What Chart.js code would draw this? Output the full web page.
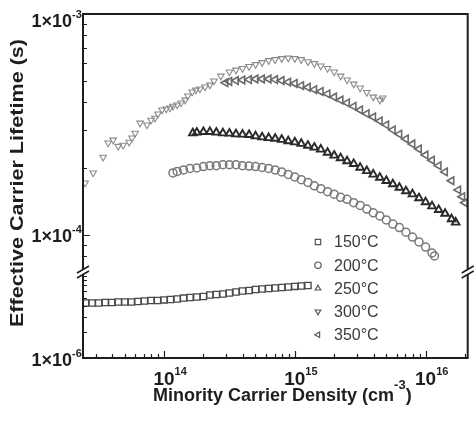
<!DOCTYPE html>
<html>
<head>
<meta charset="utf-8">
<script src="https://cdn.jsdelivr.net/npm/chart.js@4.4.0/dist/chart.umd.min.js"></script>
<style>
  html, body { margin: 0; padding: 0; background: #fff; }
  canvas { display: block; }
</style>
</head>
<body>
<canvas id="chart" width="474" height="426"></canvas>
<script>
// annealing temperatures (legend order)
const temps = ['150°C', '200°C', '250°C', '300°C', '350°C'];

// minority carrier density (cm^-3) and effective lifetime (s)
const n150 = [2.51e13, 2.82e13, 3.16e13, 3.55e13, 3.98e13, 4.47e13, 5.01e13, 5.62e13, 6.31e13, 7.08e13, 7.94e13, 8.91e13,
  1.00e14, 1.12e14, 1.26e14, 1.41e14, 1.58e14, 1.78e14, 2.00e14, 2.24e14, 2.51e14, 2.82e14,
  3.16e14, 3.55e14, 3.98e14, 4.47e14, 5.01e14, 5.62e14, 6.31e14, 7.08e14, 7.94e14, 8.91e14,
  1.00e15, 1.12e15, 1.26e15];
const tau150 = [4.36e-6, 4.36e-6, 4.36e-6, 4.42e-6, 4.42e-6, 4.48e-6, 4.48e-6, 4.48e-6, 4.54e-6, 4.60e-6, 4.66e-6, 4.66e-6,
  4.73e-6, 4.79e-6, 4.85e-6, 4.98e-6, 5.05e-6, 5.12e-6, 5.19e-6, 5.40e-6, 5.48e-6, 5.55e-6,
  5.70e-6, 5.85e-6, 6.01e-6, 6.09e-6, 6.26e-6, 6.34e-6, 6.43e-6, 6.52e-6, 6.60e-6, 6.69e-6,
  6.79e-6, 6.88e-6, 6.97e-6];

const n200 = [1.17e14, 1.26e14, 1.41e14, 1.58e14, 1.78e14, 2.00e14, 2.24e14, 2.51e14, 2.82e14, 3.16e14,
  3.55e14, 3.98e14, 4.47e14, 5.01e14, 5.62e14, 6.31e14, 7.08e14, 7.94e14, 8.91e14,
  1.00e15, 1.12e15, 1.26e15, 1.41e15, 1.58e15, 1.78e15, 2.00e15, 2.24e15, 2.51e15, 2.82e15,
  3.16e15, 3.55e15, 3.98e15, 4.47e15, 5.01e15, 5.62e15, 6.31e15, 7.08e15, 7.94e15, 8.91e15,
  1.00e16, 1.12e16, 1.17e16];
const tau200 = [1.91e-4, 1.94e-4, 1.97e-4, 2.00e-4, 2.01e-4, 2.04e-4, 2.06e-4, 2.06e-4, 2.08e-4, 2.08e-4,
  2.08e-4, 2.06e-4, 2.05e-4, 2.04e-4, 2.02e-4, 2.00e-4, 1.97e-4, 1.93e-4, 1.88e-4,
  1.83e-4, 1.78e-4, 1.73e-4, 1.67e-4, 1.62e-4, 1.57e-4, 1.53e-4, 1.48e-4, 1.45e-4, 1.40e-4,
  1.36e-4, 1.31e-4, 1.26e-4, 1.22e-4, 1.17e-4, 1.12e-4, 1.08e-4, 1.03e-4, 9.79e-5, 9.30e-5,
  8.82e-5, 8.29e-5, 8.04e-5];

const n250 = [1.66e14, 1.78e14, 2.00e14, 2.24e14, 2.51e14, 2.82e14, 3.16e14, 3.55e14, 3.98e14, 4.47e14,
  5.01e14, 5.62e14, 6.31e14, 7.08e14, 7.94e14, 8.91e14,
  1.00e15, 1.12e15, 1.26e15, 1.41e15, 1.58e15, 1.78e15, 2.00e15, 2.24e15, 2.51e15, 2.82e15,
  3.16e15, 3.55e15, 3.98e15, 4.47e15, 5.01e15, 5.62e15, 6.31e15, 7.08e15, 7.94e15, 8.91e15,
  1.00e16, 1.12e16, 1.26e16, 1.41e16, 1.58e16, 1.70e16];
const tau250 = [2.89e-4, 2.91e-4, 2.93e-4, 2.93e-4, 2.91e-4, 2.89e-4, 2.88e-4, 2.86e-4, 2.85e-4, 2.84e-4,
  2.80e-4, 2.77e-4, 2.75e-4, 2.73e-4, 2.70e-4, 2.66e-4,
  2.63e-4, 2.59e-4, 2.54e-4, 2.49e-4, 2.44e-4, 2.36e-4, 2.29e-4, 2.23e-4, 2.16e-4, 2.10e-4,
  2.02e-4, 1.95e-4, 1.88e-4, 1.82e-4, 1.76e-4, 1.70e-4, 1.64e-4, 1.58e-4, 1.53e-4, 1.47e-4,
  1.41e-4, 1.35e-4, 1.30e-4, 1.25e-4, 1.18e-4, 1.14e-4];

const n300 = [2.49e13, 2.87e13, 3.42e13, 3.74e13, 4.08e13, 4.46e13, 4.86e13, 5.41e13, 5.70e13, 6.01e13,
  6.56e13, 7.41e13, 7.96e13, 8.53e13, 8.99e13, 9.66e13,
  1.04e14, 1.11e14, 1.17e14, 1.26e14, 1.35e14, 1.45e14, 1.52e14, 1.64e14, 1.75e14, 1.88e14,
  2.06e14, 2.24e14, 2.41e14, 2.72e14,
  3.16e14, 3.55e14, 3.98e14, 4.47e14, 5.01e14, 5.62e14, 6.31e14, 7.08e14, 7.94e14, 8.91e14,
  1.00e15, 1.12e15, 1.26e15, 1.41e15, 1.58e15, 1.78e15, 2.00e15, 2.24e15, 2.51e15, 2.82e15,
  3.16e15, 3.55e15, 3.98e15, 4.47e15, 4.70e15];
const tau300 = [1.72e-4, 1.91e-4, 2.25e-4, 2.61e-4, 2.69e-4, 2.52e-4, 2.55e-4, 2.63e-4, 2.75e-4, 2.89e-4,
  3.21e-4, 3.15e-4, 3.31e-4, 3.38e-4, 3.53e-4, 3.68e-4,
  3.72e-4, 3.76e-4, 3.83e-4, 3.88e-4, 3.96e-4, 4.08e-4, 4.26e-4, 4.44e-4, 4.53e-4, 4.58e-4,
  4.68e-4, 4.77e-4, 4.98e-4, 5.24e-4,
  5.47e-4, 5.58e-4, 5.67e-4, 5.79e-4, 5.91e-4, 6.03e-4, 6.16e-4, 6.22e-4, 6.29e-4, 6.32e-4,
  6.29e-4, 6.22e-4, 6.09e-4, 5.97e-4, 5.82e-4, 5.67e-4, 5.47e-4, 5.24e-4, 5.03e-4, 4.82e-4,
  4.63e-4, 4.42e-4, 4.21e-4, 4.08e-4, 4.17e-4];

const n350 = [2.95e14, 3.16e14, 3.55e14, 3.98e14, 4.47e14, 5.01e14, 5.62e14, 6.31e14, 7.08e14, 7.94e14, 8.91e14,
  1.00e15, 1.12e15, 1.26e15, 1.41e15, 1.58e15, 1.78e15, 2.00e15, 2.24e15, 2.51e15, 2.82e15,
  3.16e15, 3.55e15, 3.98e15, 4.47e15, 5.01e15, 5.62e15, 6.31e15, 7.08e15, 7.94e15, 8.91e15,
  1.00e16, 1.12e16, 1.26e16, 1.41e16, 1.58e16, 1.78e16, 1.91e16, 2.00e16];
const tau350 = [4.89e-4, 4.95e-4, 5.00e-4, 5.03e-4, 5.05e-4, 5.08e-4, 5.08e-4, 5.08e-4, 5.05e-4, 5.00e-4, 4.92e-4,
  4.85e-4, 4.74e-4, 4.66e-4, 4.55e-4, 4.46e-4, 4.35e-4, 4.21e-4, 4.08e-4, 3.96e-4, 3.82e-4,
  3.68e-4, 3.54e-4, 3.42e-4, 3.28e-4, 3.15e-4, 2.99e-4, 2.86e-4, 2.72e-4, 2.58e-4, 2.45e-4,
  2.30e-4, 2.18e-4, 2.06e-4, 1.93e-4, 1.76e-4, 1.60e-4, 1.49e-4, 1.40e-4];

// tick labels
const xTickValues = [1e14, 1e15, 1e16];
const xTickExps = ['14', '15', '16'];
const yTickValues = [1e-3, 1e-4];
const yTickExps = ['-3', '-4'];
const y2TickValues = [1e-6];
const y2TickExps = ['-6'];

const densities = [n150, n200, n250, n300, n350];
const lifetimes = [tau150, tau200, tau250, tau300, tau350];
const axisIds = ['y2', 'y', 'y', 'y', 'y'];
const shapes = ['rect', 'circle', 'triangle', 'triangle', 'triangle'];
const turns = [0, 0, 0, 180, -90];
const colors = ['#4a4a4a', '#7a7a7a', '#2a2a2a', '#8a8a8a', '#6a6a6a'];
const sizes = [4.4, 4.0, 4.4, 3.8, 4.4];
const widths = [1.4, 1.5, 1.9, 1.1, 1.6];

const FONT = '"Liberation Sans", Arial, Helvetica, sans-serif';

const datasets = temps.map((t, i) => ({
  label: t,
  data: densities[i].map((n, j) => ({ x: n, y: lifetimes[i][j] })),
  yAxisID: axisIds[i],
  pointStyle: shapes[i],
  rotation: turns[i],
  pointRadius: sizes[i],
  borderWidth: widths[i],
  borderColor: colors[i],
  backgroundColor: 'rgba(255,255,255,0)',
  showLine: false
}));

function marker(ctx, style, rot, r, x, y) {
  ctx.beginPath();
  if (style === 'rect') {
    const s = r * Math.SQRT1_2;
    ctx.rect(x - s, y - s, 2 * s, 2 * s);
  } else if (style === 'circle') {
    ctx.arc(x, y, r, 0, Math.PI * 2);
  } else {
    const t = rot * Math.PI / 180;
    for (let i = 0; i < 3; i++) {
      const a = t + i * 2 * Math.PI / 3;
      const px = x + Math.sin(a) * r, py = y - Math.cos(a) * r;
      if (i) ctx.lineTo(px, py); else ctx.moveTo(px, py);
    }
    ctx.closePath();
  }
  ctx.stroke();
}

// base text with a raised exponent; x is the left edge of the base text
function supText(ctx, base, sup, x, y, baseSize, supSize, rise) {
  ctx.textAlign = 'left';
  ctx.textBaseline = 'alphabetic';
  ctx.font = 'bold ' + baseSize + 'px ' + FONT;
  ctx.fillText(base, x, y);
  const w = ctx.measureText(base).width;
  ctx.font = 'bold ' + supSize + 'px ' + FONT;
  ctx.fillText(sup, x + w, y - rise);
  return w + ctx.measureText(sup).width;
}

const framePlugin = {
  id: 'frame',
  afterDatasetsDraw(chart) {
    const { ctx, chartArea: a, scales } = chart;
    const sx = scales.x, sy = scales.y, sy2 = scales.y2;
    ctx.save();
    ctx.strokeStyle = '#1e1e1e';

    // inward ticks
    ctx.lineWidth = 1.2;
    ctx.beginPath();
    for (let d = 13; d <= 16; d++) {
      for (let k = 1; k <= 9; k++) {
        const v = k * Math.pow(10, d);
        if (v < sx.min || v > sx.max) continue;
        const px = Math.round(sx.getPixelForValue(v)) + 0.5;
        const len = k === 1 ? 7 : 4;
        ctx.moveTo(px, a.bottom);
        ctx.lineTo(px, a.bottom - len);
      }
    }
    [[sy, -5, -3], [sy2, -6, -6]].forEach(([s, d0, d1]) => {
      for (let d = d0; d <= d1; d++) {
        for (let k = 1; k <= 9; k++) {
          const v = k * Math.pow(10, d);
          if (v < s.min || v >= s.max) continue;
          const py = Math.round(s.getPixelForValue(v)) + 0.5;
          const len = k === 1 ? 7 : 4;
          ctx.moveTo(a.left, py);
          ctx.lineTo(a.left + len, py);
        }
      }
    });
    ctx.stroke();

    // frame
    ctx.lineWidth = 2;
    ctx.strokeRect(a.left, a.top, a.right - a.left, a.bottom - a.top);

    // axis break marks
    const yb = sy.bottom;
    [a.left, a.right].forEach(x0 => {
      ctx.fillStyle = '#fff';
      ctx.beginPath();
      ctx.moveTo(x0 - 6, yb + 1);
      ctx.lineTo(x0 + 6, yb - 6);
      ctx.lineTo(x0 + 6, yb - 1);
      ctx.lineTo(x0 - 6, yb + 6);
      ctx.closePath();
      ctx.fill();
      ctx.lineWidth = 1.6;
      ctx.beginPath();
      ctx.moveTo(x0 - 6, yb + 1); ctx.lineTo(x0 + 6, yb - 6);
      ctx.moveTo(x0 - 6, yb + 6); ctx.lineTo(x0 + 6, yb - 1);
      ctx.stroke();
    });
    ctx.restore();
  },
  afterDraw(chart) {
    const { ctx, chartArea: a, scales } = chart;
    ctx.save();
    ctx.fillStyle = '#1e1e1e';

    // y tick labels
    const yLab = (s, vals, exps) => vals.forEach((v, i) => {
      const py = Math.max(s.getPixelForValue(v) + 1, a.top + 6);
      ctx.font = 'bold 18px ' + FONT;
      const w = ctx.measureText('1×10').width;
      supText(ctx, '1×10', exps[i], 72 - w, py + 6.5, 18, 11, 9);
    });
    yLab(scales.y, yTickValues, yTickExps);
    yLab(scales.y2, y2TickValues, y2TickExps);

    // x tick labels
    xTickValues.forEach((v, i) => {
      const px = scales.x.getPixelForValue(v);
      ctx.font = 'bold 19px ' + FONT;
      const w = ctx.measureText('10').width;
      supText(ctx, '10', xTickExps[i], px - w / 2, 385, 19, 11, 10);
    });

    // x title
    const w1 = supText(ctx, 'Minority Carrier Density (cm', '-3', 153, 401, 18, 13, 12);
    ctx.font = 'bold 18px ' + FONT;
    ctx.fillText(')', 153 + w1, 401);

    // y title
    ctx.save();
    ctx.translate(18, 183);
    ctx.rotate(-Math.PI / 2);
    ctx.scale(1.2, 1);
    ctx.font = 'bold 18px ' + FONT;
    ctx.textAlign = 'center';
    ctx.textBaseline = 'middle';
    ctx.fillText('Effective Carrier Lifetime (s)', 0, 0);
    ctx.restore();

    // legend
    chart.data.datasets.forEach((ds, i) => {
      const y = 242 + i * 23.2;
      ctx.strokeStyle = '#555';
      ctx.lineWidth = 1.2;
      marker(ctx, ds.pointStyle, ds.rotation, ds.pointStyle === 'rect' ? 3.8 : 3.2, 318, y);
      ctx.fillStyle = '#3a3a3a';
      ctx.font = '16px ' + FONT;
      ctx.textAlign = 'left';
      ctx.textBaseline = 'middle';
      ctx.fillText(ds.label, 334, y + 1);
    });
    ctx.restore();
  }
};

new Chart(document.getElementById('chart').getContext('2d'), {
  type: 'scatter',
  data: { datasets },
  options: {
    responsive: false,
    animation: false,
    devicePixelRatio: 1,
    layout: { padding: { left: 83, top: 14, right: 5, bottom: 68 } },
    plugins: { legend: { display: false }, tooltip: { enabled: false } },
    scales: {
      x: { type: 'logarithmic', min: 2.4e13, max: 2.1e16, display: false },
      y: { type: 'logarithmic', position: 'left', min: 6.8e-5, max: 1e-3, display: false,
           stack: 'tau', stackWeight: 3, weight: 2 },
      y2: { type: 'logarithmic', position: 'left', min: 1e-6, max: 1e-5, display: false,
            stack: 'tau', stackWeight: 1, weight: 1 }
    }
  },
  plugins: [framePlugin]
});
</script>
</body>
</html>
